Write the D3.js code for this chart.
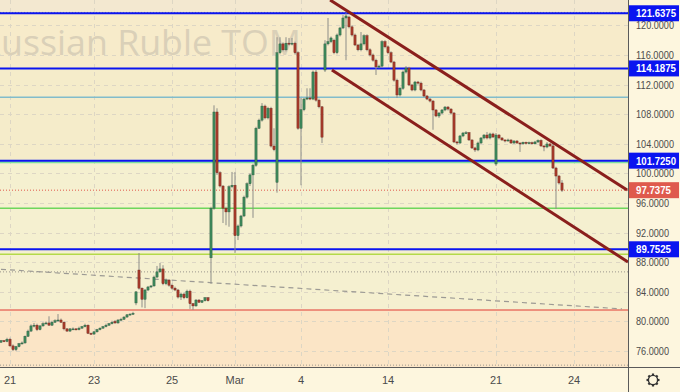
<!DOCTYPE html>
<html><head><meta charset="utf-8">
<script src="https://cdn.jsdelivr.net/npm/d3@7"></script>
<style>
html,body{margin:0;padding:0;background:#fdf6de;}
svg{display:block;}
</style></head>
<body>
<svg id="c" width="680" height="392"></svg>
<script>
// ---- data ----
const title = "Russian Ruble TOM";
const timeTickIndex = [3, 31, 57, 78, 100, 129, 165, 191];
const timeTickLabels = ["21", "23", "25", "Mar", "4", "14", "21", "24"];
const priceTicks = [76, 80, 84, 88, 92, 96, 100, 104, 108, 112, 116, 120];
const keyLevels = [121.6375, 114.1875, 101.725, 89.7525];
const lastPrice = 97.7375;
const supportLines = [
  {v: 110.3, kind: "teal"},
  {v: 101.5, kind: "mint"},
  {v: 95.3, kind: "green"},
  {v: 89.08, kind: "lime"},
  {v: 81.55, kind: "red"}
];
const dottedLevels = [121.75, 86.7, 74.1];
const trendDashed = [[0, 87.05], [207, 81.7]];
const channelUpper = [[109.7, 123.43], [208.7, 97.76]];
const channelLower = [[110.3, 113.97], [209, 88.03]];
// candles: [open, high, low, close]
const candles = [
[77.2,77.5,77.1,77.4],[77.4,77.5,77.2,77.3],[77.3,77.8,77.2,77.6],[77.6,77.8,76.6,76.7],[76.7,76.9,76.0,76.2],
[76.2,76.7,76.0,76.6],[76.6,77.1,76.5,77.0],[77.0,77.3,76.9,77.1],[77.1,78.1,77.0,78.0],[78.0,78.9,77.9,78.7],
[78.7,79.6,78.6,79.4],[79.4,79.8,79.2,79.5],[79.5,79.7,78.7,78.9],[78.9,79.5,78.8,79.4],[79.4,79.9,79.3,79.7],
[79.7,80.0,79.6,79.8],[79.8,80.7,79.4,79.5],[79.5,80.1,79.4,79.9],[79.9,80.3,79.8,80.1],[80.1,81.0,80.0,80.2],
[80.2,80.4,79.8,79.9],[79.9,80.0,78.8,79.0],[79.0,79.1,78.6,78.7],[78.7,79.1,78.6,79.0],[79.0,79.2,78.9,79.0],
[79.0,79.1,78.8,78.9],[78.9,79.3,78.8,79.1],[79.1,79.4,79.0,79.3],[79.3,79.7,79.2,79.5],[79.5,79.6,78.3,78.4],
[78.4,78.5,78.2,78.3],[78.3,78.7,78.2,78.6],[78.6,79.0,78.5,78.9],[78.9,79.2,78.8,79.1],[79.1,79.4,79.0,79.3],
[79.3,79.7,79.2,79.5],[79.5,79.8,79.4,79.7],[79.7,80.1,79.6,79.9],[80.0,80.2,79.7,79.8],[79.8,80.3,79.7,80.2],
[80.2,80.5,80.1,80.3],[80.3,80.7,80.2,80.6],[80.6,81.0,80.5,80.9],[80.9,81.1,80.8,81.0],[81.0,81.3,80.9,81.1],
[82.5,84.1,82.2,84.0],[86.95,89.25,84.3,84.5],[84.5,84.6,81.9,83.0],[83.0,84.4,81.8,84.25],[84.25,84.8,84.1,84.66],
[84.66,84.9,84.5,84.8],[84.8,86.2,84.7,86.0],[86.0,87.5,85.9,86.7],[86.7,87.9,86.6,87.1],[87.1,87.6,84.9,85.1],
[85.1,85.8,84.9,85.6],[85.6,85.7,84.7,84.9],[84.9,85.1,84.3,84.5],[84.5,84.7,84.1,84.25],[84.25,84.4,83.1,83.3],
[83.3,83.9,82.9,83.7],[83.7,83.9,83.0,83.2],[83.2,84.3,83.1,84.1],[84.1,84.3,81.7,82.4],[82.4,82.5,81.55,82.1],
[82.1,83.0,82.0,82.9],[82.9,83.0,82.5,82.6],[82.6,82.9,82.5,82.8],[82.8,83.3,82.7,83.2],[83.2,83.3,82.7,82.8],
[88.6,95.5,85.1,95.3],[95.3,109.2,95.1,108.3],[108.3,108.8,99.8,100.1],[100.1,100.3,98.1,98.3],[98.3,98.4,93.3,95.3],
[95.3,95.5,93.0,94.8],[94.8,98.4,92.8,98.2],[98.2,100.2,98.0,98.4],[98.4,100.2,89.25,91.6],[91.6,93.1,91.0,92.9],
[92.9,94.4,92.7,94.25],[94.25,97.0,94.1,96.8],[96.8,98.8,96.6,98.6],[98.6,100.0,98.3,99.8],[99.8,101.3,94.0,101.1],
[101.1,106.3,100.9,106.1],[106.1,107.4,106.0,107.2],[107.2,109.5,107.0,109.1],[109.1,109.3,107.3,107.5],[107.5,109.0,107.3,108.8],
[108.8,109.0,103.5,103.7],[103.7,106.1,103.0,103.2],[98.8,118.4,97.4,116.3],[116.3,118.4,116.1,117.5],[117.5,117.7,116.5,116.7],
[116.7,118.4,116.5,117.6],[117.6,118.3,117.3,117.5],[117.5,118.3,117.3,117.6],[117.6,117.8,116.1,116.3],[116.3,116.5,105.9,106.1],
[106.1,110.2,98.4,108.6],[108.6,110.2,108.4,110.05],[110.05,111.5,109.9,110.2],[110.2,111.5,109.9,110.05],[110.05,113.9,109.9,113.7],
[113.7,114.0,109.7,109.9],[109.9,110.1,108.8,109.0],[109.0,109.1,104.1,104.9],[113.97,118.0,113.7,117.5],[117.5,121.0,117.3,117.8],
[117.8,118.5,117.6,118.3],[118.0,118.2,116.1,116.3],[116.3,118.9,116.1,118.7],[118.7,119.8,118.5,119.65],[119.65,121.4,119.5,121.0],
[121.0,121.67,115.3,121.27],[121.13,121.3,119.6,119.8],[119.8,120.0,118.5,118.7],[118.7,118.9,117.2,117.35],[117.35,117.5,116.5,116.7],
[116.7,119.1,116.5,117.5],[117.5,118.8,117.3,118.6],[118.6,118.8,116.5,116.7],[116.7,116.9,115.8,116.0],[116.0,116.2,115.1,115.3],
[115.3,115.5,113.3,114.4],[114.4,114.7,114.2,114.5],[114.5,118.0,114.3,117.8],[117.8,118.0,116.9,117.1],[117.1,117.3,116.1,116.3],
[116.3,116.5,114.9,115.05],[115.05,115.2,112.4,112.6],[112.6,112.8,110.2,110.6],[110.6,111.7,110.4,111.5],[111.5,113.9,111.3,113.7],
[113.7,114.5,113.5,114.24],[114.24,114.4,111.8,111.95],[111.95,112.1,111.1,111.27],[111.27,112.5,111.1,112.35],[112.35,112.5,112.0,112.2],
[112.2,112.4,111.1,111.27],[111.27,111.4,110.3,110.46],[110.46,110.6,109.9,110.05],[110.05,110.2,109.6,109.78],[109.78,109.9,105.9,108.57],
[108.57,108.7,107.6,107.76],[107.76,108.3,107.5,108.16],[108.16,108.7,108.0,108.57],[108.57,109.1,108.4,108.97],[108.97,109.1,108.5,108.7],
[108.7,108.8,108.0,108.16],[108.16,108.3,104.1,104.25],[104.25,104.4,103.9,104.11],[104.11,105.2,104.0,105.06],[105.06,105.6,104.9,105.46],
[105.46,105.73,105.3,105.5],[105.5,105.6,104.4,104.52],[104.52,104.6,103.3,103.44],[103.44,103.6,102.9,103.17],[103.17,104.3,103.0,104.11],
[104.11,104.9,104.0,104.79],[104.79,105.3,104.6,105.19],[105.19,105.6,104.6,104.79],[104.79,105.5,104.6,105.33],[105.33,105.5,104.8,104.92],
[101.27,105.46,101.0,105.19],[105.19,105.3,104.6,104.79],[104.79,104.9,104.4,104.52],[104.52,104.6,104.2,104.38],[104.38,104.7,104.3,104.52],
[104.52,104.6,104.0,104.11],[104.11,104.5,104.0,104.38],[104.38,104.5,104.0,104.11],[104.11,104.2,102.9,104.0],[104.0,104.3,103.9,104.2],
[104.2,104.3,103.9,104.05],[104.05,104.3,104.0,104.15],[104.15,104.3,103.9,104.0],[104.0,104.4,103.9,104.25],[104.25,104.6,104.1,104.45],
[104.45,104.6,103.6,103.71],[103.71,103.8,103.0,103.57],[103.57,104.25,103.4,103.98],[103.98,104.1,103.6,103.71],[103.71,104.11,100.6,100.73],
[100.73,100.9,95.2,99.65],[99.65,99.8,98.5,98.71],[98.71,99.1,97.5,97.7375]
];

// ---- layout ----
const W = 680, H = 392, plotW = 628, plotH = 367;
const svg = d3.select("#c");
const x = d3.scaleLinear().domain([0, 209]).range([1, 628]);
const y = d3.scaleLinear().domain([73.85, 123.43]).range([plotH, 0]);

const defs = svg.append("defs");
defs.append("clipPath").attr("id", "plotClip").append("rect")
  .attr("x", 0).attr("y", 0).attr("width", plotW).attr("height", plotH);

// background
svg.append("rect").attr("x", 0).attr("y", 0).attr("width", W).attr("height", H).attr("fill", "#fdf6de");
const plot = svg.append("g").attr("clip-path", "url(#plotClip)");
const bands = [
  {top: 123.43, bot: 121.6375, c: "#f3e8d0"},
  {top: 121.6375, bot: 114.1875, c: "#f7ebca"},
  {top: 114.1875, bot: 101.725, c: "#f5ecca"},
  {top: 101.725, bot: 81.55, c: "#f5f0d0"},
  {top: 81.55, bot: 73.85, c: "#fbe5c6"}
];
plot.selectAll("rect.band").data(bands).join("rect")
  .attr("x", 0).attr("width", plotW)
  .attr("y", d => y(d.top)).attr("height", d => y(d.bot) - y(d.top))
  .attr("fill", d => d.c);

// watermark (clipped at the left edge, as in the original)
plot.append("text").text(title)
  .attr("x", -21).attr("y", 55)
  .attr("textLength", 322).attr("lengthAdjust", "spacingAndGlyphs")
  .attr("font-family", "'Open Sans','Liberation Sans',sans-serif")
  .attr("font-size", 34).attr("fill", "#dad0b8");

// grid
plot.selectAll("line.hg").data(priceTicks).join("line")
  .attr("x1", 0).attr("x2", plotW).attr("y1", d => Math.round(y(d)) + 0.5).attr("y2", d => Math.round(y(d)) + 0.5)
  .attr("stroke", "#ddd6c4").attr("stroke-dasharray", "4,4").attr("stroke-width", 1);
plot.selectAll("line.vg").data(timeTickIndex).join("line")
  .attr("y1", 0).attr("y2", plotH).attr("x1", d => Math.round(x(d)) + 0.5).attr("x2", d => Math.round(x(d)) + 0.5)
  .attr("stroke", "#ddd6c4").attr("stroke-dasharray", "4,4").attr("stroke-width", 1);

// support/resistance lines
const lineColor = {teal: "#82bccb", mint: "#7ee0a0", green: "#6fd65c", lime: "#b4d94a", red: "#e23a32"};
plot.selectAll("line.sup").data(supportLines).join("line")
  .attr("x1", 0).attr("x2", plotW).attr("y1", d => y(d.v)).attr("y2", d => y(d.v))
  .attr("stroke", d => lineColor[d.kind]).attr("stroke-width", d => d.kind === "red" ? 1.2 : 1.6);

plot.selectAll("line.dot").data(dottedLevels).join("line")
  .attr("x1", 0).attr("x2", plotW).attr("y1", d => y(d)).attr("y2", d => y(d))
  .attr("stroke", "#9a968c").attr("stroke-dasharray", "1,2").attr("stroke-width", 1);

plot.append("path").datum(trendDashed)
  .attr("d", d3.line().x(d => x(d[0])).y(d => y(d[1])))
  .attr("stroke", "#9c9a94").attr("stroke-width", 1.2).attr("stroke-dasharray", "5,4").attr("fill", "none");

plot.selectAll("line.key").data(keyLevels).join("line")
  .attr("x1", 0).attr("x2", plotW).attr("y1", d => y(d)).attr("y2", d => y(d))
  .attr("stroke", "#0a14f0").attr("stroke-width", 2);

// last price dotted
plot.append("line").attr("x1", 0).attr("x2", plotW).attr("y1", y(lastPrice)).attr("y2", y(lastPrice))
  .attr("stroke", "#e0584c").attr("stroke-dasharray", "1,2").attr("stroke-width", 1);

// candles
const cg = plot.append("g");
const cd = candles.map((c, i) => ({i, o: c[0], h: c[1], l: c[2], c: c[3]}));
cg.selectAll("line.wick").data(cd).join("line")
  .attr("x1", d => x(d.i)).attr("x2", d => x(d.i))
  .attr("y1", d => y(d.h)).attr("y2", d => y(d.l))
  .attr("stroke", "#8d8d88").attr("stroke-width", 1);
cg.selectAll("rect.body").data(cd).join("rect")
  .attr("x", d => x(d.i) - 1.1).attr("width", 2.2)
  .attr("y", d => y(Math.max(d.o, d.c)))
  .attr("height", d => Math.max(1, Math.abs(y(d.o) - y(d.c))))
  .attr("fill", d => d.c >= d.o ? "#3f8a5d" : "#a93b2c")
  .attr("stroke", d => d.c >= d.o ? "#24553a" : "#6a2218").attr("stroke-width", 0.4);

// channel
const chLine = d3.line().x(d => x(d[0])).y(d => y(d[1]));
[channelUpper, channelLower].forEach(p => {
  plot.append("path").datum(p).attr("d", chLine)
    .attr("stroke", "#8a1f1c").attr("stroke-width", 3).attr("fill", "none");
});

// axes frame
svg.append("line").attr("x1", plotW + 0.5).attr("x2", plotW + 0.5).attr("y1", 0).attr("y2", H)
  .attr("stroke", "#5a5a5a").attr("stroke-width", 1);
svg.append("line").attr("x1", 0).attr("x2", W).attr("y1", plotH + 0.5).attr("y2", plotH + 0.5)
  .attr("stroke", "#5a5a5a").attr("stroke-width", 1);

const fontAxis = "'Liberation Sans',Arial,sans-serif";
// price axis labels
svg.selectAll("text.pt").data(priceTicks).join("text")
  .attr("x", 636).attr("y", d => y(d) + 4)
  .attr("font-family", fontAxis).attr("font-size", 11).attr("fill", "#4b4b4b")
  .attr("textLength", d => d >= 100 ? 38 : 33).attr("lengthAdjust", "spacingAndGlyphs")
  .text(d => d.toFixed(4));

// level label boxes
const boxes = keyLevels.map(v => ({v, fill: "#0a14f0"})).concat([{v: lastPrice, fill: "#df5a4d"}]);
const bg = svg.selectAll("g.box").data(boxes).join("g");
bg.append("rect").attr("x", 629).attr("width", 50).attr("y", d => y(d.v) - 8).attr("height", 16)
  .attr("fill", d => d.fill);
bg.append("text").attr("x", 636).attr("y", d => y(d.v) + 4)
  .attr("font-family", fontAxis).attr("font-size", 11).attr("font-weight", "bold").attr("fill", "#ffffff")
  .attr("textLength", d => d.v >= 100 ? 40 : 35).attr("lengthAdjust", "spacingAndGlyphs")
  .text(d => d.v.toFixed(4));

// time axis labels
svg.selectAll("text.tt").data(timeTickIndex).join("text")
  .attr("x", d => x(d)).attr("y", 384).attr("text-anchor", "middle")
  .attr("font-family", fontAxis).attr("font-size", 11).attr("fill", "#4b4b4b")
  .text((d, i) => timeTickLabels[i]);

// gear icon
const gear = svg.append("g").attr("transform", "translate(653,380)");
gear.selectAll("line").data(d3.range(8)).join("line")
  .attr("x1", 0).attr("y1", 0)
  .attr("x2", d => 6.5 * Math.cos(d * Math.PI / 4)).attr("y2", d => 6.5 * Math.sin(d * Math.PI / 4))
  .attr("stroke", "#333").attr("stroke-width", 2.2);
gear.append("circle").attr("r", 4.6).attr("fill", "#fdf6de").attr("stroke", "#333").attr("stroke-width", 1.4);
</script>
</body></html>
